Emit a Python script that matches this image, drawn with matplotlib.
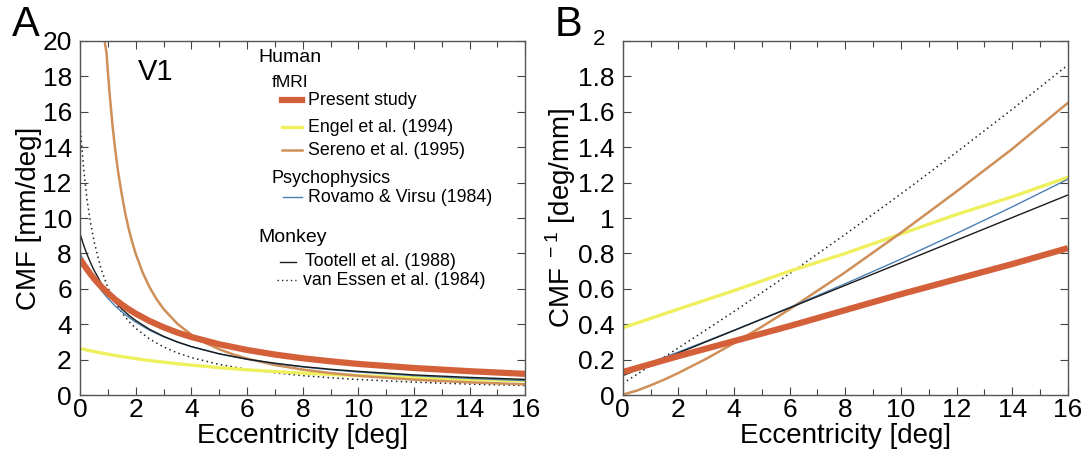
import numpy as np
import matplotlib
matplotlib.use("Agg")
import matplotlib.pyplot as plt
from matplotlib.lines import Line2D

plt.rcParams['font.family'] = ['Liberation Sans', 'DejaVu Sans']
plt.rcParams['mathtext.fontset'] = 'custom'
plt.rcParams['mathtext.rm'] = 'Liberation Sans'

# ---- panel A: CMF [mm/deg] ----
ecc_a = [0, 0.125, 0.25, 0.375, 0.5, 0.75, 1, 1.25, 1.5, 1.75, 2, 2.5, 3, 3.5,
         4, 5, 6, 7, 8, 9, 10, 12, 14, 16]
present_a = [7.69, 7.38, 7.10, 6.83, 6.58, 6.14, 5.76, 5.41, 5.11, 4.84, 4.60, 4.18,
             3.83, 3.53, 3.28, 2.87, 2.55, 2.29, 2.08, 1.91, 1.76, 1.53, 1.35, 1.20]
engel_a = [2.63, 2.59, 2.54, 2.50, 2.46, 2.38, 2.31, 2.24, 2.18, 2.12, 2.06, 1.95,
           1.86, 1.77, 1.69, 1.55, 1.43, 1.33, 1.24, 1.17, 1.10, 0.98, 0.89, 0.81]
rovamo_a = [8.0, 7.56, 7.17, 6.82, 6.50, 5.93, 5.46, 5.05, 4.70, 4.39, 4.12, 3.66,
            3.29, 2.99, 2.73, 2.33, 2.02, 1.78, 1.59, 1.43, 1.30, 1.10, 0.94, 0.82]
tootell_a = [9.09, 8.47, 7.94, 7.47, 7.05, 6.34, 5.75, 5.27, 4.86, 4.51, 4.21, 3.71,
             3.32, 3.00, 2.74, 2.33, 2.03, 1.80, 1.61, 1.46, 1.34, 1.14, 1.00, 0.885]
essen_a = [15.2, 12.8, 11.0, 9.72, 8.68, 7.14, 6.06, 5.27, 4.65, 4.16, 3.77, 3.16,
           2.72, 2.38, 2.12, 1.73, 1.46, 1.26, 1.10, 0.98, 0.88, 0.73, 0.62, 0.54]

ecc_sereno_a = [0.88, 0.95, 1, 1.05, 1.1, 1.175, 1.25, 1.375, 1.5, 1.625, 1.75, 1.875,
                2, 2.25, 2.5, 2.75, 3, 3.5, 4, 4.5, 5, 5.5, 6, 7, 8, 9, 10, 12, 14, 16]
sereno_a = [20.0, 19.3, 18.2, 17.2, 16.3, 15.06, 14.0, 12.5, 11.3, 10.24, 9.36, 8.62,
            7.97, 6.91, 6.08, 5.41, 4.86, 4.02, 3.41, 2.95, 2.59, 2.30, 2.06, 1.70,
            1.44, 1.245, 1.09, 0.87, 0.72, 0.61]

# ---- panel B: CMF^-1 [deg/mm] ----
ecc_b = [0, 2, 4, 6, 8, 10, 12, 14, 16]
present_b = [0.13, 0.22, 0.305, 0.39, 0.48, 0.57, 0.655, 0.74, 0.83]
engel_b = [0.38, 0.486, 0.59, 0.70, 0.80, 0.91, 1.02, 1.12, 1.23]
rovamo_b = [0.125, 0.243, 0.366, 0.495, 0.629, 0.768, 0.913, 1.063, 1.219]
tootell_b = [0.11, 0.2375, 0.365, 0.4925, 0.62, 0.7475, 0.875, 1.0025, 1.13]
essen_b = [0.066, 0.266, 0.472, 0.686, 0.908, 1.136, 1.372, 1.614, 1.864]

ecc_sereno_b = [0, 0.5, 1, 1.5, 2, 3, 4, 5, 6, 8, 10, 12, 14, 16]
sereno_b = [0.003, 0.025, 0.055, 0.088, 0.125, 0.205, 0.293, 0.386, 0.485, 0.694,
            0.917, 1.15, 1.39, 1.65]

# styles
c_present = '#d4603a'
c_engel = '#eef05e'
c_sereno = '#cf8f58'
c_rovamo = '#4a80b4'
c_tootell = '#1a1a1a'
c_essen = '#222222'

fig = plt.figure(figsize=(10.83, 4.5), dpi=100)
axA = fig.add_axes([0.074, 0.122, 0.411, 0.787])
axB = fig.add_axes([0.575, 0.122, 0.411, 0.787])


def style_axis(ax):
    ax.set_xlim(0, 16)
    ax.set_xticks(range(0, 17, 2))
    ax.set_xticks(range(0, 17), minor=True)
    ax.tick_params(which='both', direction='in', top=True, right=True,
                   color='#444444', width=0.8)
    ax.tick_params(which='major', length=6, labelsize=19)
    ax.tick_params(axis='x', which='major', pad=2)
    ax.tick_params(axis='y', which='major', pad=6)
    ax.tick_params(which='minor', length=4)
    for s in ax.spines.values():
        s.set_color('#555555')
        s.set_linewidth(1.0)
    ax.set_xlabel('Eccentricity [deg]', fontsize=20, labelpad=1)


def draw_lines(ax, x, xs, present, engel, sereno, rovamo, tootell, essen):
    ax.plot(x, essen, color=c_essen, lw=1.1, ls=(0, (1, 2.2)))
    ax.plot(x, engel, color=c_engel, lw=2.4)
    ax.plot(xs, sereno, color=c_sereno, lw=1.8)
    ax.plot(x, rovamo, color=c_rovamo, lw=1.0)
    ax.plot(x, tootell, color=c_tootell, lw=1.0)
    ax.plot(x, present, color=c_present, lw=4.5, solid_capstyle='butt')


# panel A
draw_lines(axA, ecc_a, ecc_sereno_a, present_a, engel_a, sereno_a,
           rovamo_a, tootell_a, essen_a)
style_axis(axA)
axA.set_ylim(0, 20)
axA.set_yticks(range(0, 21, 2))
axA.set_ylabel('CMF [mm/deg]', fontsize=20, labelpad=0)
axA.text(0.13, 0.912, 'V1', transform=axA.transAxes, fontsize=21, va='center')

# legend drawn inside panel A
tA = axA.transAxes
axA.text(0.40, 0.952, 'Human', transform=tA, fontsize=14, va='center')
axA.text(0.431, 0.884, 'fMRI', transform=tA, fontsize=12.5, va='center')
axA.text(0.429, 0.613, 'Psychophysics', transform=tA, fontsize=13, va='center')
axA.text(0.40, 0.446, 'Monkey', transform=tA, fontsize=14, va='center')
entries = [
    (0.833, 0.454, 0.499, 0.512, 'Present study', dict(color=c_present, lw=4.5)),
    (0.757, 0.454, 0.499, 0.512, 'Engel et al. (1994)', dict(color=c_engel, lw=2.4)),
    (0.692, 0.454, 0.499, 0.512, 'Sereno et al. (1995)', dict(color=c_sereno, lw=1.8)),
    (0.559, 0.456, 0.499, 0.512, 'Rovamo & Virsu (1984)', dict(color=c_rovamo, lw=1.0)),
    (0.376, 0.450, 0.485, 0.506, 'Tootell et al. (1988)', dict(color=c_tootell, lw=1.0)),
    (0.325, 0.443, 0.485, 0.501, 'van Essen et al. (1984)', dict(color=c_essen, lw=1.0, ls=(0, (1, 2.2)))),
]
for y, x0, x1, xt, label, kw in entries:
    axA.add_line(Line2D([x0, x1], [y, y], transform=tA, **kw))
    axA.text(xt, y, label, transform=tA, fontsize=12.8, va='center')

# panel B
draw_lines(axB, ecc_b, ecc_sereno_b, present_b, engel_b, sereno_b,
           rovamo_b, tootell_b, essen_b)
style_axis(axB)
axB.set_ylim(0, 2)
yt = [0, 0.2, 0.4, 0.6, 0.8, 1, 1.2, 1.4, 1.6, 1.8, 2]
axB.set_yticks(yt)
axB.set_yticklabels(['0', '0.2', '0.4', '0.6', '0.8', '1', '1.2', '1.4', '1.6', '1.8', ''])
axB.text(-0.04, 1.005, '2', transform=axB.transAxes, fontsize=16, ha='right', va='center')
axB.set_ylabel('CMF$^{\\ -1}$ [deg/mm]', fontsize=20, labelpad=0)

fig.text(0.011, 0.945, 'A', fontsize=30, va='center')
fig.text(0.512, 0.945, 'B', fontsize=30, va='center')

fig.savefig('out.png', dpi=100)
